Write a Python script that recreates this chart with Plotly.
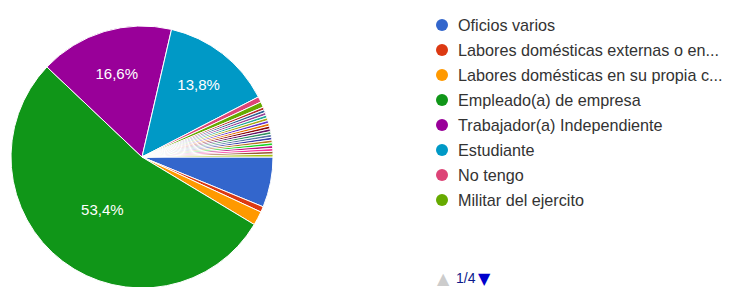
import plotly.graph_objects as go

# ---- data (counts, N = 290) ----
categories = [
    "Oficios varios",
    "Labores domésticas externas o en...",
    "Labores domésticas en su propia c...",
    "Empleado(a) de empresa",
    "Trabajador(a) Independiente",
    "Estudiante",
    "No tengo",
    "Militar del ejercito",
] + [f"Otra ocupación {i}" for i in range(1, 19)]

counts = [18, 2, 5, 155, 48, 40, 2, 2] + [1] * 18

colors = ["#3366cc", "#dc3912", "#ff9900", "#109618", "#990099", "#0099c6",
          "#dd4477", "#66aa00", "#b82e2e", "#316395", "#994499", "#22aa99",
          "#aaaa11", "#6633cc", "#e67300", "#8b0707", "#651067", "#329262",
          "#5574a6", "#3b3eac", "#b77322", "#16d620", "#b91383", "#f4359e",
          "#9c5935", "#a9c413"]

legend_shown = 8
page_label = "1/4"

# labels only on the big slices
templates = ["%{percent:.1%}" if c / sum(counts) > 0.1 else "" for c in counts]

W, H = 735, 287
CX, CY, R = 134, 149, 131
fig = go.Figure()
fig.add_trace(go.Pie(
    labels=categories,
    values=counts,
    sort=False,
    direction="clockwise",
    rotation=90,
    marker=dict(colors=colors, line=dict(color="white", width=1)),
    texttemplate=templates,
    textposition="inside",
    insidetextorientation="horizontal",
    textfont=dict(color="white", size=15, family="Liberation Sans, Arial"),
    hoverinfo="label+percent",
    domain=dict(x=[(CX - R) / W, (CX + R) / W],
                y=[1 - (CY + R) / H, 1 - (CY - R) / H]),
    showlegend=False,
))

shapes = []
annotations = []
for i in range(legend_shown):
    ypx = 17 + 25 * i
    yp = 1 - ypx / H
    shapes.append(dict(type="circle", xref="paper", yref="paper",
                       xsizemode="pixel", ysizemode="pixel",
                       xanchor=434 / W, yanchor=yp,
                       x0=-6, x1=6, y0=-6, y1=6,
                       fillcolor=colors[i], line=dict(width=0)))
    annotations.append(dict(text=categories[i], xref="paper", yref="paper",
                            x=448 / W, y=yp, xanchor="left", yanchor="middle",
                            showarrow=False,
                            font=dict(size=16.2, color="#333333",
                                      family="Liberation Sans, Arial")))

# pager
ypg = 1 - 270 / H
annotations.append(dict(text="▲", xref="paper", yref="paper", x=427 / W, y=ypg,
                        xanchor="left", yanchor="middle", showarrow=False,
                        font=dict(size=16, color="#cccccc", family="DejaVu Sans")))
annotations.append(dict(text=page_label, xref="paper", yref="paper", x=446 / W, y=ypg,
                        xanchor="left", yanchor="middle", showarrow=False,
                        font=dict(size=14, color="#0c1a8c", family="Liberation Sans, Arial")))
annotations.append(dict(text="▼", xref="paper", yref="paper", x=468 / W, y=ypg,
                        xanchor="left", yanchor="middle", showarrow=False,
                        font=dict(size=16, color="#0000cc", family="DejaVu Sans")))

fig.update_layout(
    width=W, height=H,
    margin=dict(l=0, r=0, t=0, b=0),
    paper_bgcolor="white",
    plot_bgcolor="white",
    separators=",.",
    shapes=shapes,
    annotations=annotations,
)

fig.write_html("out.html")
